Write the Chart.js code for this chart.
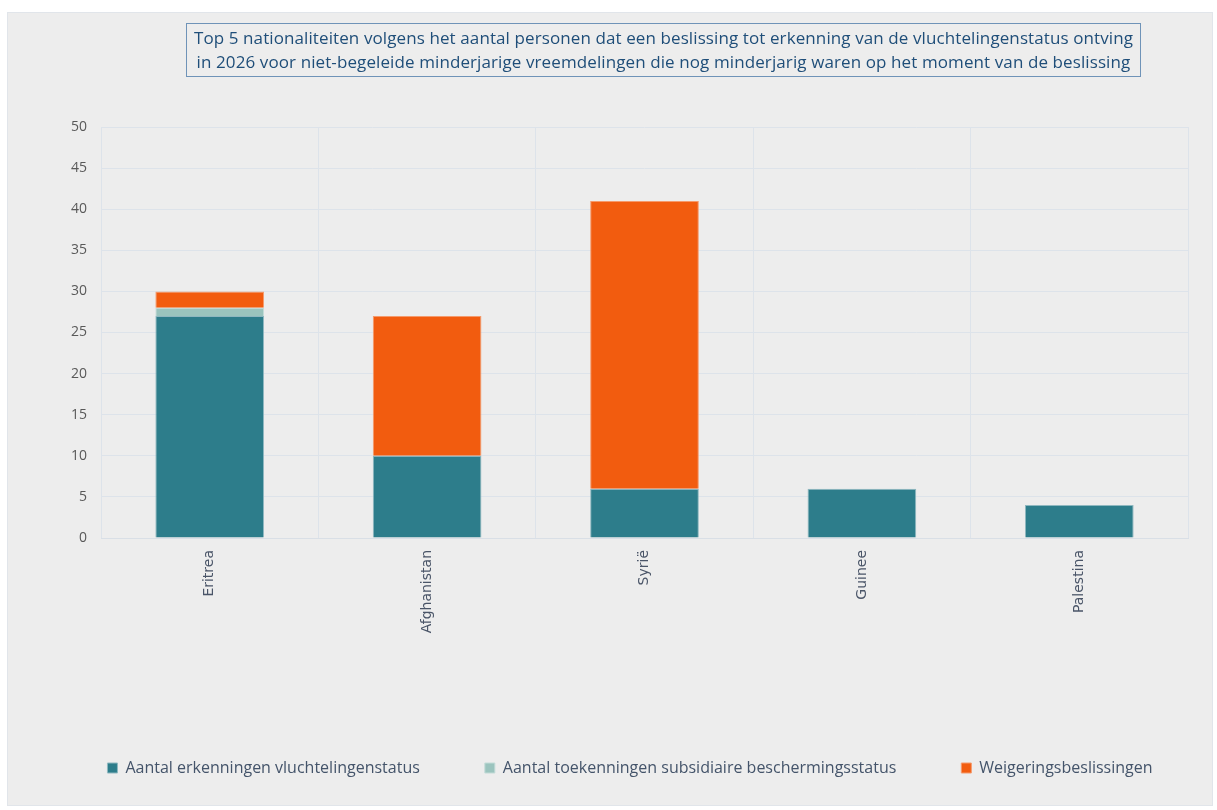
<!DOCTYPE html>
<html>
<head>
<meta charset="utf-8">
<script src="https://cdn.jsdelivr.net/npm/chart.js@4"></script>
<style>
  body { margin: 0; background: #ffffff; }
  #wrap {
    position: absolute; left: 7px; top: 12px; width: 1206px; height: 794px;
    background: #ededed; border: 1px solid #e1e5ea; box-sizing: border-box;
  }
  #title {
    position: absolute; left: 178px; top: 10px; width: 955px; height: 54px;
    border: 1px solid #6f93b8; box-sizing: border-box; white-space: nowrap;
    font-family: "Open Sans", sans-serif; font-size: 17px; letter-spacing: 0.1px;
    color: #1f4e79; text-align: center; line-height: 24px; padding-top: 2px;
  }
  canvas { position: absolute; left: 0; top: 0; }
</style>
</head>
<body>
<div id="wrap">
  <canvas id="barChart" width="1206" height="794"></canvas>
  <div id="title">Top 5 nationaliteiten volgens het aantal personen dat een beslissing tot erkenning van de vluchtelingenstatus ontving<br>in 2026 voor niet-begeleide minderjarige vreemdelingen die nog minderjarig waren op het moment van de beslissing</div>
</div>
<script>
// Nationaliteiten en beslissingen
const countries = ["Eritrea", "Afghanistan", "Syrië", "Guinee", "Palestina"];
const erkenningen = [27, 10, 6, 6, 4];
const subsidiair = [1, 0, 0, 0, 0];
const weigeringen = [2, 17, 35, 0, 0];
const yTicks = [0, 5, 10, 15, 20, 25, 30, 35, 40, 45, 50];

// legend sits a bit right of centre in the original
const legendShift = {
  id: "legendShift",
  afterLayout(chart) {
    chart.legend.left += 32;
    chart.legend.right += 32;
  },
};

const ctxBar = document.getElementById("barChart").getContext("2d");
new Chart(ctxBar, {
  type: "bar",
  data: {
    labels: countries,
    datasets: [
      {
        label: "Aantal erkenningen vluchtelingenstatus",
        data: erkenningen,
        backgroundColor: "#2d7d8b",
        borderColor: "#8fb8c0",
        borderWidth: 1,
      },
      {
        label: "Aantal toekenningen subsidiaire beschermingsstatus",
        data: subsidiair,
        backgroundColor: "#9bc4be",
        borderColor: "#c3dcd8",
        borderWidth: 1,
      },
      {
        label: "Weigeringsbeslissingen",
        data: weigeringen,
        backgroundColor: "#f25c0f",
        borderColor: "#f59a6c",
        borderWidth: 1,
      },
    ],
  },
  plugins: [legendShift],
  options: {
    responsive: false,
    animation: false,
    layout: { padding: { top: 114, right: 26, bottom: 21, left: 0 } },
    datasets: { bar: { barPercentage: 0.5, categoryPercentage: 1 } },
    plugins: {
      title: { display: false },
      tooltip: { enabled: false },
      legend: {
        position: "bottom",
        labels: {
          boxWidth: 10,
          boxHeight: 10,
          padding: 65,
          color: "#44546a",
          font: { family: "Open Sans", size: 16 },
        },
      },
    },
    scales: {
      x: {
        stacked: true,
        afterFit: (s) => { s.height = 157; },
        grid: { color: "#dde3ea", drawTicks: false, offset: true },
        border: { color: "#d9dfe6" },
        ticks: {
          minRotation: 90,
          maxRotation: 90,
          padding: 12,
          color: "#4a5568",
          font: { family: "DejaVu Sans", size: 14 },
        },
      },
      y: {
        stacked: true,
        min: 0,
        max: 50,
        afterFit: (s) => { s.width = 93; },
        afterBuildTicks: (s) => { s.ticks = yTicks.map((v) => ({ value: v })); },
        grid: { color: "#dde3ea", drawTicks: false },
        border: { display: false },
        ticks: {
          padding: 14,
          color: "#595959",
          font: { family: "Open Sans", size: 14 },
        },
      },
    },
  },
});
</script>
</body>
</html>
